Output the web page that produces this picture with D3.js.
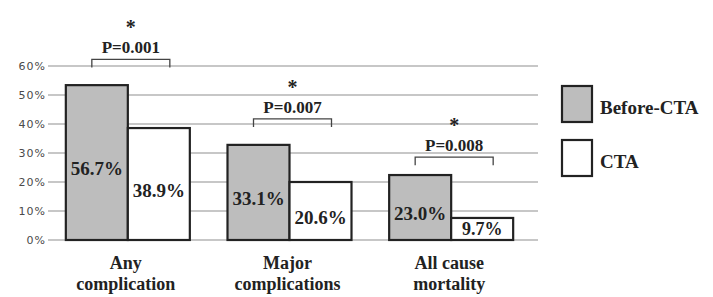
<!DOCTYPE html>
<html>
<head>
<meta charset="utf-8">
<script src="https://cdn.jsdelivr.net/npm/d3@7"></script>
<style>
  body { margin: 0; background: #fff; }
  .serif { font-family: "Liberation Serif", "Times New Roman", serif; font-weight: bold; fill: #222; }
  .tick-label { font-family: "DejaVu Sans", sans-serif; font-size: 11px; fill: #4a4a4a; letter-spacing: 1px; }
</style>
</head>
<body>
<svg id="chart" width="713" height="297"></svg>
<script>
// categories and series
const categories = [["Any", "complication"], ["Major", "complications"], ["All cause", "mortality"]]
const seriesNames = ["Before-CTA", "CTA"]
// bar heights as drawn in the figure (percent)
const beforeValues = [53.4, 32.8, 22.4]
const ctaValues = [38.6, 20.0, 7.6]
// printed labels inside bars
const beforeLabels = ["56.7%", "33.1%", "23.0%"]
const ctaLabels = ["38.9%", "20.6%", "9.7%"]
// significance annotations
const pValues = ["P=0.001", "P=0.007", "P=0.008"]
const bracketLevels = [59.5, 39.0, 25.8]
const yTicks = [0, 10, 20, 30, 40, 50, 60]

const svg = d3.select("#chart")
const colors = {"Before-CTA": "#bdbdbd", "CTA": "#ffffff"}

const y = d3.scaleLinear().domain([0, 60]).range([240, 66])
const x0 = d3.scaleBand().domain(d3.range(categories.length)).range([45, 530])
const x1 = d3.scaleBand().domain(seriesNames).range([-60, 64])

// gridlines
svg.append("g").selectAll("line")
  .data(yTicks)
  .join("line")
  .attr("x1", 48).attr("x2", 538)
  .attr("y1", d => y(d)).attr("y2", d => y(d))
  .attr("stroke", "#b4b4b4").attr("stroke-width", 1.6)

svg.append("g").selectAll("text")
  .data(yTicks)
  .join("text")
  .attr("class", "tick-label")
  .attr("x", 46).attr("y", d => y(d))
  .attr("dy", "0.36em")
  .attr("text-anchor", "end")
  .text(d => d + "%")

const rows = categories.map((c, i) => [
  {key: "Before-CTA", i, value: beforeValues[i], label: beforeLabels[i]},
  {key: "CTA", i, value: ctaValues[i], label: ctaLabels[i]}
])

const center = i => x0(i) + x0.bandwidth() / 2

const groups = svg.append("g").selectAll("g")
  .data(rows)
  .join("g")
  .attr("transform", (d, i) => `translate(${center(i)},0)`)

groups.selectAll("rect")
  .data(d => d)
  .join("rect")
  .attr("x", d => x1(d.key))
  .attr("width", x1.bandwidth())
  .attr("y", d => y(d.value))
  .attr("height", d => y(0) - y(d.value))
  .attr("fill", d => colors[d.key])
  .attr("stroke", "#222").attr("stroke-width", 2.2)

// keep short bars' labels inside the bar
groups.selectAll("text")
  .data(d => d)
  .join("text")
  .attr("class", "serif")
  .style("font-size", d => d.value < 10 ? "18px" : "19px")
  .attr("x", d => x1(d.key) + x1.bandwidth() / 2)
  .attr("y", d => Math.min((y(d.value) + y(0)) / 2 + 6, y(0) - 11))
  .attr("dy", "0.35em")
  .attr("text-anchor", "middle")
  .text(d => d.label)

// category labels
const cat = svg.append("g").selectAll("text")
  .data(categories)
  .join("text")
  .attr("class", "serif")
  .style("font-size", "18px")
  .attr("text-anchor", "middle")
  .attr("x", (d, i) => center(i))
  .attr("y", 263)
cat.selectAll("tspan")
  .data(d => d)
  .join("tspan")
  .attr("x", function () { return d3.select(this.parentNode).attr("x") })
  .attr("dy", (d, j) => j === 0 ? "0.35em" : "1.15em")
  .text(d => d)

// significance brackets
const ann = svg.append("g").selectAll("g")
  .data(pValues)
  .join("g")
  .attr("transform", (d, i) => `translate(${center(i) + 5},${y(bracketLevels[i])})`)

ann.append("path")
  .attr("d", "M-39,0 V-8 H39 V0")
  .attr("fill", "none")
  .attr("stroke", "#444").attr("stroke-width", 1.3)

ann.append("text")
  .attr("class", "serif")
  .style("font-size", "17px")
  .attr("text-anchor", "middle")
  .attr("y", -20).attr("dy", "0.35em")
  .text(d => d)

ann.append("text")
  .attr("class", "serif")
  .style("font-size", "20px")
  .attr("text-anchor", "middle")
  .attr("y", -47).attr("dy", "0.7em")
  .text("*")

// legend
const legend = svg.append("g").selectAll("g")
  .data(seriesNames)
  .join("g")
  .attr("transform", (d, i) => `translate(562,${86 + i * 54})`)

legend.append("rect")
  .attr("width", 30).attr("height", 36)
  .attr("fill", d => colors[d])
  .attr("stroke", "#222").attr("stroke-width", 2.2)

legend.append("text")
  .attr("class", "serif")
  .style("font-size", "19px")
  .attr("x", 38).attr("y", 21)
  .attr("dy", "0.35em")
  .text(d => d)
</script>
</body>
</html>
